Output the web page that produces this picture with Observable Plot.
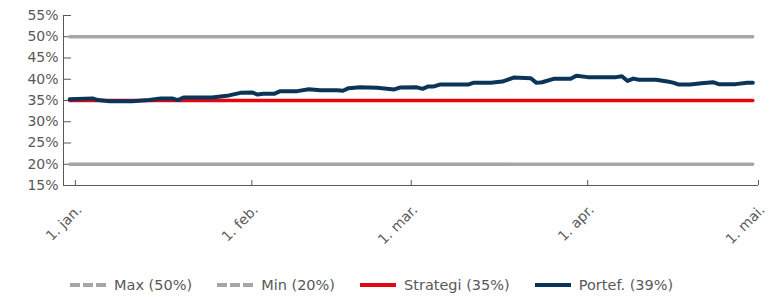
<!DOCTYPE html>
<html><head><meta charset="utf-8">
<script src="https://cdn.jsdelivr.net/npm/d3@7"></script>
<script src="https://cdn.jsdelivr.net/npm/@observablehq/plot@0.6"></script>
<style>
body{margin:0;background:#fff;font-family:"DejaVu Sans",sans-serif;}
#wrap{position:relative;width:782px;height:297px;}
#legend{position:absolute;top:276px;left:70px;display:flex;gap:25px;font-size:14.5px;line-height:18px;color:#595959;white-space:nowrap;}
.item{display:flex;align-items:center;gap:8px;}
</style></head>
<body><div id="wrap"><div id="chart"></div><div id="legend"></div></div>
<script>
// Portfolio share (%)
const portDates = ["2022-12-31","2023-01-04","2023-01-05","2023-01-07","2023-01-11","2023-01-14","2023-01-16","2023-01-18","2023-01-19","2023-01-20","2023-01-25","2023-01-28","2023-01-30","2023-02-01","2023-02-02","2023-02-03","2023-02-05","2023-02-06","2023-02-09","2023-02-11","2023-02-13","2023-02-16","2023-02-17","2023-02-18","2023-02-20","2023-02-23","2023-02-26","2023-02-27","2023-03-02","2023-03-03","2023-03-04","2023-03-05","2023-03-06","2023-03-11","2023-03-12","2023-03-15","2023-03-17","2023-03-19","2023-03-22","2023-03-23","2023-03-24","2023-03-26","2023-03-29","2023-03-30","2023-04-01","2023-04-06","2023-04-07","2023-04-08","2023-04-09","2023-04-10","2023-04-13","2023-04-15","2023-04-16","2023-04-17","2023-04-19","2023-04-21","2023-04-23","2023-04-24","2023-04-27","2023-04-29","2023-04-30"];
const portValues = [35.3,35.5,35.1,34.85,34.85,35.1,35.5,35.5,35.1,35.7,35.7,36.2,36.8,36.9,36.4,36.6,36.6,37.2,37.2,37.65,37.4,37.4,37.3,37.9,38.1,38.0,37.6,38.05,38.1,37.75,38.3,38.3,38.75,38.75,39.2,39.2,39.45,40.4,40.25,39.15,39.3,40.1,40.1,40.8,40.5,40.5,40.7,39.6,40.15,39.9,39.9,39.45,39.2,38.75,38.75,39.05,39.3,38.85,38.85,39.2,39.2];
// Constant reference levels
const rangeDates = ["2022-12-31","2023-04-30"];
const maxLevel = 50, minLevel = 20, strategyLevel = 35;
const seriesNames = ["Max (50%)","Min (20%)","Strategi (35%)","Portef. (39%)"];
const seriesColors = ["#a6a6a6","#a6a6a6","#e30613","#0b3558"];
// Axes
const xDomain = ["2022-12-29T22:00:00Z","2023-05-01"];
const tickDates = ["2023-01-01","2023-02-01","2023-03-01","2023-04-01","2023-05-01"];
const tickLabels = ["1. jan.","1. feb.","1. mar.","1. apr.","1. mai."];
const yTicks = [15,20,25,30,35,40,45,50,55];

const port = portDates.map((d,i)=>({date:new Date(d), v:portValues[i]}));
const lvl = v => rangeDates.map(d=>({date:new Date(d), v}));
const xTicks = tickDates.map(d=>new Date(d));

const plot = Plot.plot({
  width:782, height:263,
  marginLeft:63, marginRight:24, marginTop:15, marginBottom:78,
  style:{fontFamily:"DejaVu Sans, sans-serif", fontSize:"14px", color:"#595959", background:"#fff"},
  x:{type:"utc", domain:xDomain.map(d=>new Date(d))},
  y:{domain:[15,55]},
  marks:[
    Plot.axisY({ticks:yTicks, tickFormat:d=>d+"%", tickSize:-8, tickPadding:13, label:null, stroke:"#595959"}),
    Plot.axisX({ticks:xTicks, tickFormat:()=>"", tickSize:-5, label:null, stroke:"#595959"}),
    Plot.axisX({ticks:xTicks, tickFormat:(d,i)=>tickLabels[i], tickRotate:-45, tickSize:0, tickPadding:22, dx:4, label:null}),
    Plot.lineY(lvl(maxLevel),{x:"date",y:"v",stroke:seriesColors[0],strokeWidth:3.5,strokeDasharray:"3,1"}),
    Plot.lineY(lvl(minLevel),{x:"date",y:"v",stroke:seriesColors[1],strokeWidth:3.5,strokeDasharray:"3,1"}),
    Plot.lineY(lvl(strategyLevel),{x:"date",y:"v",stroke:seriesColors[2],strokeWidth:3.5}),
    Plot.lineY(port,{x:"date",y:"v",stroke:seriesColors[3],strokeWidth:4,strokeLinejoin:"round",strokeLinecap:"round"}),
    Plot.ruleX([new Date(xDomain[0])],{stroke:"#595959"}),
    Plot.ruleY([15],{stroke:"#595959"})
  ]
});
document.getElementById("chart").appendChild(plot);

const legend = document.getElementById("legend");
seriesNames.forEach((name,i)=>{
  const dashed = i<2;
  const item = document.createElement("div"); item.className="item";
  item.innerHTML = `<svg width="36" height="6"><line x1="0" y1="3" x2="36" y2="3" stroke="${seriesColors[i]}" stroke-width="4" ${dashed?'stroke-dasharray="10,3"':''}/></svg><span>${name}</span>`;
  legend.appendChild(item);
});
</script></body></html>
